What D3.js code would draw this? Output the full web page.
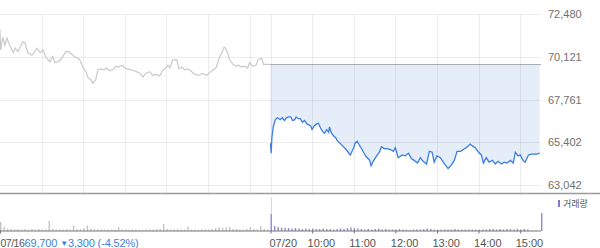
<!DOCTYPE html>
<html><head><meta charset="utf-8">
<script src="https://cdn.jsdelivr.net/npm/d3@7"></script>
<style>
html,body{margin:0;padding:0;background:#fff;}
svg{display:block;font-family:"Liberation Sans",Arial,sans-serif;}
</style></head>
<body><svg id="c" width="600" height="248"></svg>
<script>
// ---- data ----
const dayLabels = ["07/16", "07/20"];
const prevClose = 69700;
const yTickValues = [72480, 70121, 67761, 65402, 63042];
const hourLabels = ["10:00", "11:00", "12:00", "13:00", "14:00", "15:00"];
const summaryText = ["69,700 ", "▼", "3,300 (-4.52%)"];
const legendLabel = "거래량";

// minutes since 09:00
const day1Min = [0,1,4,7,10,14,19,22,26,29,33,36,40,46,50,53,58,62,66,72,76,79,84,89,95,99,104,108,112,115,120,124,127,131,134,138,141,145,150,154,158,163,167,171,176,180,184,189,193,197,202,206,210,216,220,226,230,235,239,242,245,249,255,258,262,266,271,275,281,287,292,298,304,308,312,315,320,323,325,328,331,336,340,344,348,353,357,360,364,369,372,377,380,386,390];
const day1Price = [71600,70500,71200,70750,71150,70750,70350,70600,70400,70650,70950,70900,70350,70200,70400,70600,70350,70500,70100,69850,70150,69800,69850,70050,70400,70400,70250,70100,70050,69950,69500,69300,68950,68850,68650,68850,69400,69450,69400,69500,69350,69400,69600,69550,69650,69500,69450,69400,69350,69300,69200,69000,69200,69300,69100,69150,69050,69400,69500,69650,69500,69950,69950,69450,69550,69400,69450,69350,69150,69100,69200,69100,69300,69400,69550,69950,70350,70650,70600,70350,69950,69700,69600,69650,69550,69600,69500,69800,69600,69650,69950,70050,69700,69700,69700];

const day2Min = [0,1,2,4,7,10,12,14,17,20,23,26,29,32,35,37,40,43,46,49,53,58,60,63,66,69,72,75,78,81,84,85,88,91,94,96,104,109,115,120,122,125,128,132,134,138,143,145,148,153,157,160,164,168,173,177,180,184,190,194,199,203,207,212,216,220,225,229,233,236,240,245,249,252,256,261,265,269,274,278,282,285,288,291,295,300,304,307,311,315,320,324,328,333,337,341,346,350,353,357,360,364,367,372,376,380,384,388];
const day2Price = [65350,64800,65650,66250,66650,66750,66700,66650,66750,66600,66750,66800,66800,66600,66650,66800,66700,66700,66500,66600,66400,66300,66100,66300,66400,66450,66200,66000,65900,66100,65950,66250,65900,65750,65650,65500,65200,65000,64700,65100,65350,65450,65250,65000,64850,64600,64400,64100,64350,64650,64850,65150,65050,65050,65000,64900,65100,64550,64700,64650,64800,64500,64400,64250,64550,64350,64200,64900,64850,64300,64650,64550,64300,64150,63950,64150,64400,64900,64900,65000,65100,65200,65300,65200,65100,64850,64700,64250,64550,64300,64400,64200,64350,64200,64300,64250,64400,64250,64850,64650,64700,64400,64300,64700,64750,64750,64750,64800];

// volume per 5 minutes (relative units)
const day1Vol = [90,40,25,20,15,20,15,20,15,20,15,20,15,15,100,20,15,15,15,20,15,55,20,20,30,55,25,20,15,15,15,15,15,15,40,15,15,10,15,15,15,10,15,15,15,20,20,70,20,15,15,15,15,15,45,15,15,10,15,15,15,20,30,40,30,35,40,20,20,15,15,20,40,20,15,50,20,15];
const day2Vol = [170,50,40,35,30,30,25,30,25,20,25,20,25,20,20,25,20,20,15,20,25,20,30,35,30,25,20,15,20,15,20,25,15,20,15,15,15,20,15,15,10,15,15,15,20,25,20,15,15,15,15,15,15,20,15,15,15,15,15,15,15,15,15,20,20,15,20,15,20,20,15,20,15,20,15,0,0,0,180];

// ---- scales ----
const svg = d3.select("#c");
const plotL = 0, plotR = 541;
const x = d3.scaleLinear().domain([0, 780]).range([plotL, plotR]);
const y = d3.scaleLinear().domain([63042, 72480]).range([185, 14]);
const yv = d3.scaleLinear().domain([0, 340]).range([231, 197]);

const d1 = day1Min.map((m, i) => ({t: m, p: day1Price[i]}));
const d2 = day2Min.map((m, i) => ({t: 390 + m, p: day2Price[i]}));

// fill area (day 2, between previous close and price)
svg.append("path")
  .datum(d2)
  .attr("d", d3.area().x(d => x(d.t)).y0(y(prevClose)).y1(d => y(d.p)))
  .attr("fill", "#e5edf9");

// horizontal gridlines
svg.append("g").selectAll("line").data(yTickValues).join("line")
  .attr("x1", 0).attr("x2", plotR)
  .attr("y1", d => Math.round(y(d)) + 0.5).attr("y2", d => Math.round(y(d)) + 0.5)
  .attr("stroke", "#000").attr("stroke-opacity", 0.07);

// vertical gridlines (hours of both days + day boundary)
const vLines = [60,120,180,240,300,360,390,450,510,570,630,690,750];
svg.append("g").selectAll("line").data(vLines).join("line")
  .attr("x1", d => Math.round(x(d)) + 0.5).attr("x2", d => Math.round(x(d)) + 0.5)
  .attr("y1", 14).attr("y2", 193)
  .attr("stroke", "#000").attr("stroke-opacity", 0.07);

// previous close dotted line
svg.append("line")
  .attr("x1", x(day1Min[day1Min.length - 1]) - 6).attr("x2", plotR)
  .attr("y1", Math.round(y(prevClose)) + 0.5).attr("y2", Math.round(y(prevClose)) + 0.5)
  .attr("stroke", "#666").attr("stroke-width", 1).attr("stroke-dasharray", "1,1");

const line = d3.line().x(d => x(d.t)).y(d => y(d.p));
svg.append("path").datum(d1).attr("d", line)
  .attr("fill", "none").attr("stroke", "#c9c9c9").attr("stroke-width", 1.2);
svg.append("path").datum(d2).attr("d", line)
  .attr("fill", "none").attr("stroke", "#3b7de0").attr("stroke-width", 1.3);

// y axis labels (right)
const yAxis = d3.axisRight(y).tickValues(yTickValues).tickFormat(d3.format(",")).tickSize(0).tickPadding(0);
const ya = svg.append("g").attr("transform", "translate(548,0)").call(yAxis);
ya.select(".domain").remove();
ya.selectAll("text").attr("fill", "#707070").attr("font-size", 11)
  .attr("font-family", "Liberation Sans, Arial, sans-serif");

// separator between price and volume panels
svg.append("line").attr("x1", 0).attr("x2", 600).attr("y1", 193.5).attr("y2", 193.5)
  .attr("stroke", "#9a9a9a").attr("stroke-width", 1.3);

// volume panel
svg.append("line").attr("x1", Math.round(x(390)) + 0.5).attr("x2", Math.round(x(390)) + 0.5)
  .attr("y1", 197).attr("y2", 231).attr("stroke", "#d8d8d8");
const vol1 = day1Vol.map((v, i) => ({t: i * 5, v}));
const vol2 = day2Vol.map((v, i) => ({t: 390 + i * 5, v}));
svg.append("g").selectAll("rect").data(vol1).join("rect")
  .attr("x", d => x(d.t)).attr("width", 1.4)
  .attr("y", d => yv(d.v)).attr("height", d => yv(0) - yv(d.v))
  .attr("fill", "#c4c4c4");
svg.append("g").selectAll("rect").data(vol2).join("rect")
  .attr("x", d => x(d.t)).attr("width", 1.4)
  .attr("y", d => yv(d.v)).attr("height", d => yv(0) - yv(d.v))
  .attr("fill", "#9a86d6");

// legend
svg.append("rect").attr("x", 558).attr("y", 200).attr("width", 2).attr("height", 7).attr("fill", "#8a74d0");
svg.append("text").attr("x", 563).attr("y", 206.5).text(legendLabel)
  .attr("font-family", "Noto Sans CJK KR, sans-serif").attr("font-size", 9).attr("fill", "#555");

// x axis
const tickPos = [0, 390, 450, 510, 570, 630, 690, 750];
const tickLab = [dayLabels[0], dayLabels[1], ...hourLabels];
const xAxis = d3.axisBottom(x).tickValues(tickPos).tickSize(3).tickPadding(0)
  .tickFormat((d, i) => tickLab[i]);
const xa = svg.append("g").attr("transform", "translate(0,230.5)").call(xAxis);
xa.select(".domain").attr("d", "M0,0.5H541").attr("stroke", "#777");
xa.selectAll(".tick line").attr("stroke", "#777");
xa.selectAll(".tick text")
  .attr("text-anchor", "start")
  .attr("dx", (d, i) => i < 2 ? (i === 0 ? 0 : -1.5) : -5)
  .attr("y", 16.5).attr("dy", 0)
  .attr("font-size", 11).attr("fill", "#555")
  .attr("font-family", "Liberation Sans, Arial, sans-serif");
// first date label is set tighter so the summary text can sit right after it
const firstLab = xa.selectAll(".tick text").filter((d, i) => i === 0)
  .attr("font-size", 10.5).attr("letter-spacing", -0.5);
const firstW = firstLab.node().getComputedTextLength();

// summary text overlay
const st = svg.append("text").attr("x", Math.ceil(firstW) + 0.5).attr("y", 247)
  .attr("font-size", 11).attr("letter-spacing", -0.15).attr("fill", "#3f7fdc")
  .attr("font-family", "Liberation Sans, Arial, sans-serif");
st.append("tspan").text(summaryText[0]);
st.append("tspan").attr("font-size", 8).attr("dy", -1).text(summaryText[1]);
st.append("tspan").attr("dy", 1).text(summaryText[2]);
</script></body></html>
